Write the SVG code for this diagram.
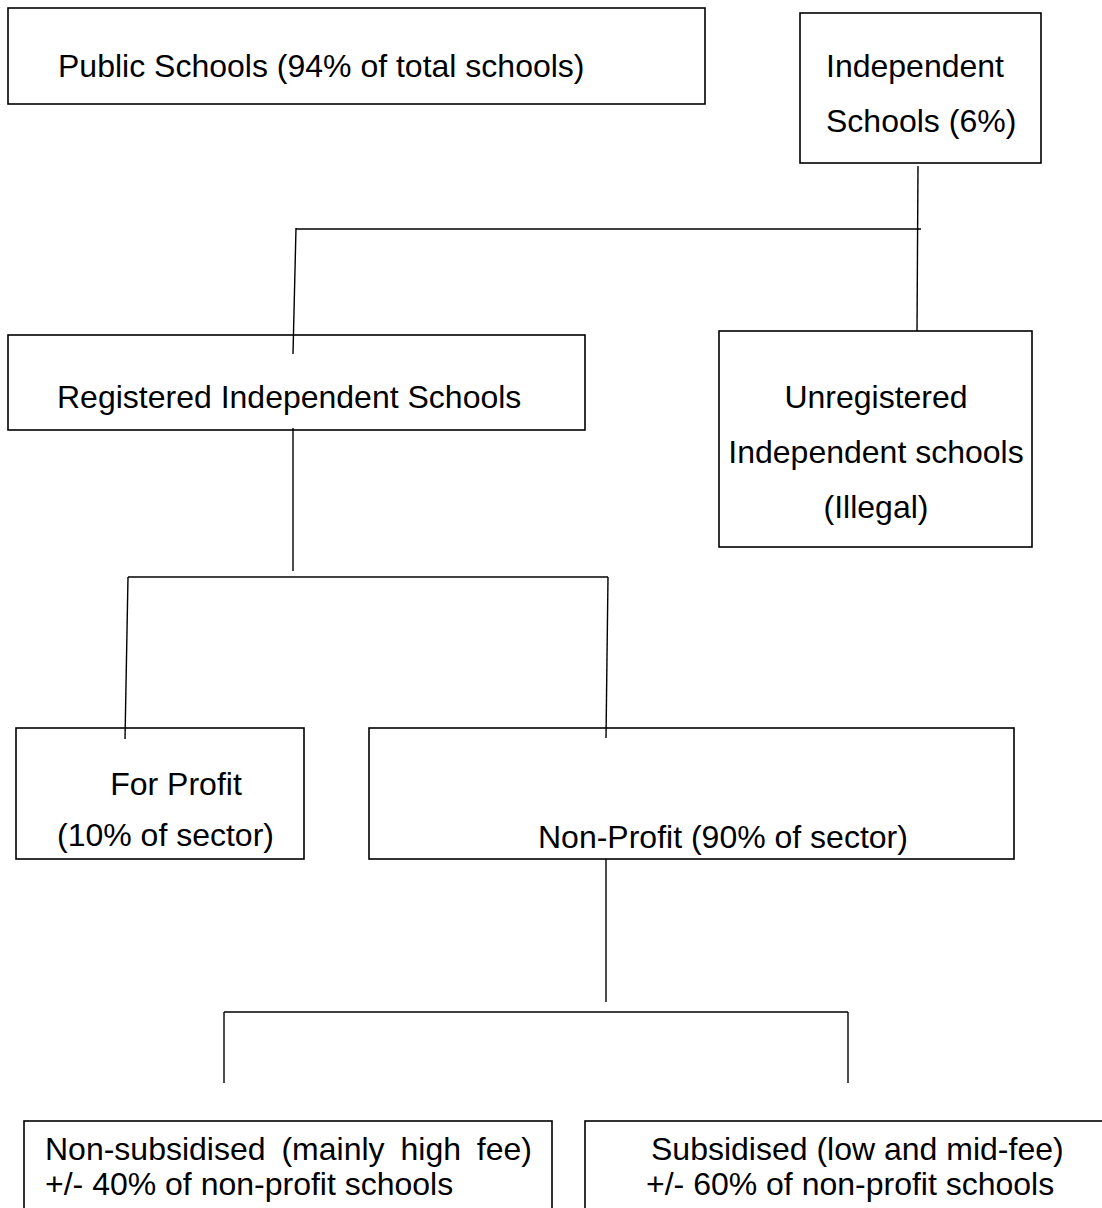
<svg xmlns="http://www.w3.org/2000/svg" width="1102" height="1208" viewBox="0 0 1102 1208">
<style>
.box{fill:#fff;stroke:#000;stroke-width:1.6}
.t{font-family:"Liberation Sans",Arial,sans-serif;font-size:32px;fill:#000}
.m{text-anchor:middle}
.c{stroke:#000;stroke-width:1.4;fill:none}
</style>
<rect width="1102" height="1208" fill="#fff"/>
<g id="node-public">
<rect class="box" x="8" y="8" width="697" height="96"/>
<text class="t" x="58" y="77">Public Schools (94% of total schools)</text>
</g>
<g id="node-independent">
<rect class="box" x="800" y="13" width="241" height="150"/>
<text class="t" x="826" y="77">Independent</text>
<text class="t" x="826" y="132">Schools (6%)</text>
</g>
<g id="node-registered">
<rect class="box" x="8" y="335" width="577" height="95"/>
<text class="t" x="57" y="408">Registered Independent Schools</text>
</g>
<g id="node-unregistered">
<rect class="box" x="719" y="331" width="313" height="216"/>
<text class="t m" x="876" y="408">Unregistered</text>
<text class="t m" x="876" y="463">Independent schools</text>
<text class="t m" x="876" y="518">(Illegal)</text>
</g>
<g id="node-forprofit">
<rect class="box" x="16" y="728" width="288" height="131"/>
<text class="t m" x="176" y="795">For Profit</text>
<text class="t" x="57" y="846">(10% of sector)</text>
</g>
<g id="node-nonprofit">
<rect class="box" x="369" y="728" width="645" height="131"/>
<text class="t" x="538" y="848">Non-Profit (90% of sector)</text>
</g>
<g id="node-nonsubsidised">
<rect class="box" x="24" y="1121" width="528" height="120"/>
<text class="t" x="45" y="1160" word-spacing="7">Non-subsidised (mainly high fee)</text>
<text class="t" x="45" y="1195">+/- 40% of non-profit schools</text>
</g>
<g id="node-subsidised">
<rect class="box" x="585" y="1121" width="560" height="120"/>
<text class="t" x="651" y="1160">Subsidised (low and mid-fee)</text>
<text class="t" x="646" y="1195">+/- 60% of non-profit schools</text>
</g>
<g id="connectors">
<line class="c" x1="918" y1="166" x2="917" y2="331"/>
<line class="c" x1="296" y1="229" x2="921" y2="229"/>
<line class="c" x1="296" y1="228" x2="293" y2="354"/>
<line class="c" x1="293" y1="428" x2="293" y2="571"/>
<line class="c" x1="128" y1="577" x2="608" y2="577"/>
<line class="c" x1="128" y1="577" x2="125" y2="739"/>
<line class="c" x1="608" y1="577" x2="606" y2="738"/>
<line class="c" x1="606" y1="859" x2="606" y2="1002"/>
<line class="c" x1="224" y1="1012" x2="848" y2="1012"/>
<line class="c" x1="224" y1="1012" x2="224" y2="1083"/>
<line class="c" x1="848" y1="1012" x2="848" y2="1083"/>
</g>
</svg>
